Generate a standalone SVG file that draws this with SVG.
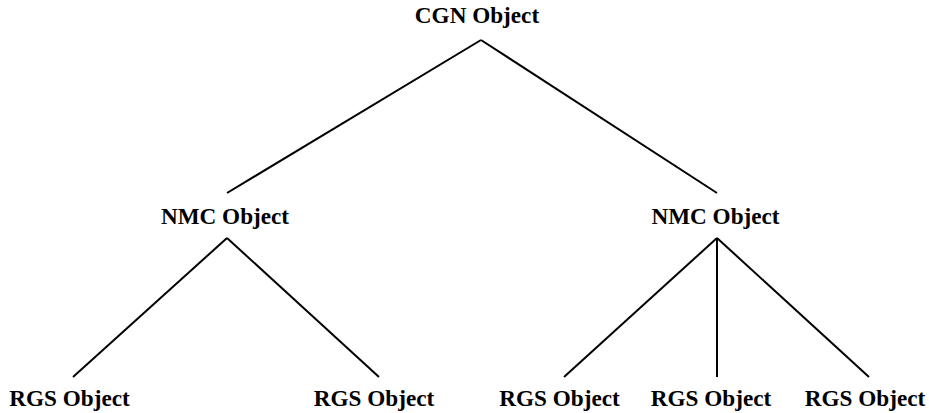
<svg xmlns="http://www.w3.org/2000/svg" width="929" height="413" viewBox="0 0 929 413">
<style>
text{font-family:'Liberation Serif','Times New Roman','DejaVu Serif',serif;font-weight:700;font-size:23.2px;fill:#000;text-anchor:middle}
.c line{stroke:#000;stroke-width:2;stroke-linecap:butt}
</style>
<rect width="929" height="413" fill="#fff"/>
<g id="connectors" class="c">
<line x1="481" y1="40" x2="227" y2="193"/>
<line x1="481" y1="40" x2="717" y2="193"/>
<line x1="227" y1="238" x2="73" y2="377"/>
<line x1="227" y1="238" x2="379" y2="377"/>
<line x1="717" y1="238" x2="564" y2="377"/>
<line x1="717" y1="238" x2="717" y2="377"/>
<line x1="717" y1="238" x2="869" y2="377"/>
</g>
<g id="cgn"><text x="477" y="22.5">CGN Object</text></g>
<g id="nmc1"><text x="225" y="223.5">NMC Object</text></g>
<g id="nmc2"><text x="715.5" y="223.5">NMC Object</text></g>
<g id="rgs1"><text x="69.5" y="405.5">RGS Object</text></g>
<g id="rgs2"><text x="374" y="405.5">RGS Object</text></g>
<g id="rgs3"><text x="559.5" y="405.5">RGS Object</text></g>
<g id="rgs4"><text x="711" y="405.5">RGS Object</text></g>
<g id="rgs5"><text x="865" y="405.5">RGS Object</text></g>
</svg>
